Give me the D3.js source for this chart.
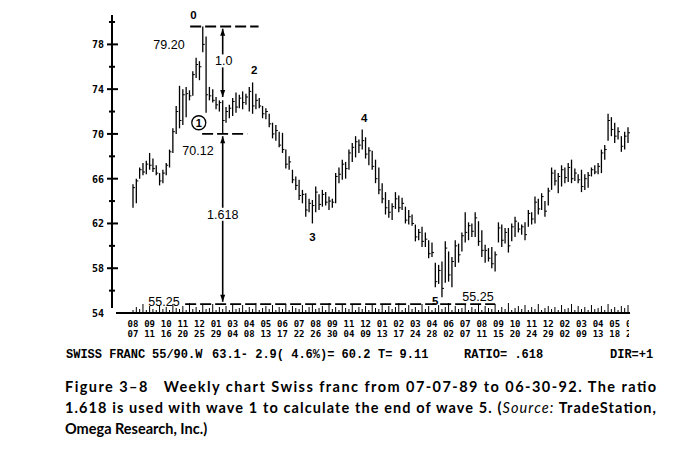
<!DOCTYPE html>
<html><head><meta charset="utf-8">
<script src="https://cdn.jsdelivr.net/npm/d3@7"></script>
<style>body{margin:0;background:#fff}svg{display:block}</style>
</head><body>
<svg id="c" width="691" height="450"></svg>
<script>
// ---- data ----
const highs = [65.5,66.0,67.0,67.4,67.6,68.3,67.8,67.2,66.5,66.8,67.4,68.6,70.5,72.5,74.3,74.0,74.2,73.9,75.6,76.8,76.5,79.6,78.7,74.2,74.0,73.3,73.0,73.0,72.4,72.6,
73.2,73.7,73.5,73.8,73.6,74.2,74.6,73.6,73.2,72.5,72.3,71.8,71.0,70.8,70.2,70.1,68.6,68.0,66.8,66.2,65.9,65.0,64.7,64.2,64.1,65.3,64.6,65.0,64.8,64.4,
64.2,66.5,67.0,67.7,67.5,68.6,69.2,69.8,69.5,70.4,69.7,68.8,68.5,67.7,67.0,65.6,64.8,64.1,63.8,64.8,64.5,64.3,63.5,63.2,62.8,61.9,61.5,61.7,61.2,60.5,
60.3,58.5,58.3,58.6,60.4,59.5,59.0,60.5,60.2,61.2,63.0,62.1,62.0,63.0,62.2,61.4,60.1,59.8,59.9,59.5,62.1,61.9,61.6,61.6,62.0,62.6,62.1,61.9,62.1,63.2,
63.0,64.4,64.2,64.7,64.0,65.2,67.0,66.8,66.5,67.2,67.0,67.4,67.7,66.9,66.4,66.8,66.4,66.6,67.0,67.2,67.4,68.6,69.0,71.8,71.5,71.0,70.6,69.8,70.2,70.6];
const lows = [63.4,63.8,66.0,66.3,66.4,66.8,66.6,66.3,65.4,65.6,66.3,67.0,68.3,70.0,70.5,70.8,71.5,73.0,73.4,75.0,74.8,77.3,71.9,73.0,72.8,72.2,72.0,70.0,71.0,71.4,
71.6,71.9,72.3,72.2,72.6,72.0,71.8,72.2,72.3,71.4,71.3,70.6,69.6,69.4,68.8,68.3,66.9,66.8,65.6,65.0,64.1,63.8,62.6,63.0,62.0,63.0,63.2,63.5,63.6,63.2,
63.4,63.8,65.6,65.9,66.0,66.8,67.5,67.9,68.3,68.6,67.8,67.2,66.8,65.6,64.6,63.8,62.8,62.5,62.3,63.3,63.0,63.2,62.0,61.9,61.8,60.4,60.5,59.9,59.9,58.9,
59.0,56.3,56.6,55.4,56.7,56.8,56.3,58.1,58.5,59.5,60.3,60.5,60.8,60.8,60.0,59.0,58.5,58.6,58.0,57.7,60.3,59.9,60.2,59.4,60.4,60.8,61.2,61.0,60.5,61.7,
61.9,62.0,62.8,63.2,62.6,63.6,65.0,65.4,64.7,65.3,65.6,65.7,65.6,65.8,65.6,64.8,65.0,65.2,66.2,66.4,66.4,66.5,67.7,69.4,69.8,69.2,69.5,68.4,68.6,69.2];
const closes = [65.2,65.8,66.8,66.6,67.3,67.2,66.9,66.5,65.8,66.5,67.2,68.4,70.2,72.0,71.2,73.5,73.6,73.4,75.3,76.2,76.0,78.0,73.5,73.4,73.0,72.6,72.8,71.2,72.0,72.3,
72.9,72.4,73.2,72.8,73.3,73.8,72.5,73.0,72.5,71.8,72.0,70.9,70.0,70.3,69.0,68.6,67.3,67.5,65.9,65.4,64.5,64.6,63.2,63.8,63.6,64.8,63.7,64.6,63.9,64.0,
63.9,66.2,66.4,67.3,66.9,68.3,68.8,69.3,69.0,69.4,68.2,68.5,67.1,66.0,65.0,64.2,63.4,63.0,63.5,64.2,63.4,63.8,62.3,62.6,62.0,60.8,61.2,60.4,60.6,59.3,
59.4,56.8,57.8,56.2,59.8,57.4,58.6,60.0,59.2,60.9,61.2,61.8,61.3,62.5,60.4,59.6,59.6,58.9,58.4,59.2,61.6,60.5,61.2,60.0,61.7,62.2,61.5,61.7,61.0,62.9,
62.4,63.9,63.3,64.4,63.1,64.9,66.5,65.8,66.2,66.8,66.1,67.0,66.0,66.5,65.9,65.3,66.0,66.3,66.8,66.6,67.1,68.3,68.6,71.2,70.4,69.8,70.2,68.9,69.8,70.1];
const volume = [2,5,3,8,2,6,3,2,7,3,5,2,8,4,3,6,2,9,3,5,2,7,3,4,8,2,5,3,6,2,8,3,4,7,2,5,3,9,2,4,6,3,7,2,5,3,8,2,6,4,3,7,2,5,8,3,4,6,2,9,
3,5,2,7,4,3,8,2,5,3,6,2,7,4,3,8,2,6,3,5,9,2,4,7,3,5,2,8,3,6,2,4,7,3,5,9,2,6,3,4,8,2,5,3,7,2,6,4,3,8,2,5,3,9,2,4,6,3,7,2,
5,3,8,2,4,6,3,5,2,7,3,4,8,2,6,3,5,2,7,3,4,6,2,8,3,5,2,6,4,7];
const yTicks = [54,58,62,66,70,74,78];
const yMinor = [56,60,64,68,72,76,80];
const months = ["08","09","10","11","12","01","03","04","05","06","07","08","09","11","12","01","02","03","04","06","07","08","09","10","11","12","02","03","04","05","06"];
const days   = ["07","11","16","20","25","29","04","08","13","17","22","26","30","04","09","13","17","24","28","02","07","11","15","20","24","29","02","09","13","18","22"];
const levels = [79.6, 70.0, 54.8];          // wave 0 high, wave 1 low, wave 5 target
const levelText = ["79.20", "70.12", "55.25"];
const ratioText = ["1.0", "1.618"];
const waveLabels = [{t:"0",w:18.2,v:80.6},{t:"2",w:36.5,v:75.7},{t:"3",w:54,v:60.8},{t:"4",w:69.6,v:71.4},{t:"5",w:91,v:55.1}];
const status = ["SWISS FRANC","55/90.W","63.1- 2.9( 4.6%)= 60.2","T= 9.11","RATIO= .618","DIR=+1"];
const caption = ["Figure 3\u20138   Weekly chart Swiss franc from 07-07-89 to 06-30-92. The ratio",
 "1.618 is used with wave 1 to calculate the end of wave 5. (",
 "Omega Research, Inc.)"];

// ---- scales ----
const svg = d3.select("#c");
const x = d3.scaleLinear().domain([0, 149]).range([133, 628]);
const y = d3.scaleLinear().domain([54, 80]).range([313, 22]);
const mono = "'Liberation Mono','DejaVu Sans Mono',monospace";

svg.append("defs").append("clipPath").attr("id","lblclip").append("rect")
  .attr("x",100).attr("y",300).attr("width",529).attr("height",50);

// y axis
const ax = 112;
svg.append("line").attr("x1",ax).attr("x2",ax).attr("y1",15).attr("y2",308).attr("stroke","#000").attr("stroke-width",2);
svg.selectAll(".ymaj").data(yTicks.filter(d=>d>54)).enter().append("line")
  .attr("x1",ax-5).attr("x2",ax+6).attr("y1",d=>y(d)).attr("y2",d=>y(d)).attr("stroke","#000").attr("stroke-width",2);
svg.selectAll(".ymin").data(yMinor).enter().append("line")
  .attr("x1",ax-3).attr("x2",ax+3).attr("y1",d=>y(d)).attr("y2",d=>y(d)).attr("stroke","#000").attr("stroke-width",2);
svg.selectAll(".ylab").data(yTicks).enter().append("text")
  .attr("x",104).attr("y",d=>y(d)+4).attr("text-anchor","end")
  .attr("font-family","'DejaVu Sans Mono',monospace").attr("font-weight","bold").attr("font-size",10)
  .text(d=>d);

// baseline
svg.append("line").attr("x1",116).attr("x2",630).attr("y1",313).attr("y2",313).attr("stroke","#000").attr("stroke-width",2);
// volume ticks
svg.selectAll(".vol").data(volume).enter().append("line")
  .attr("x1",(d,i)=>x(i)).attr("x2",(d,i)=>x(i)).attr("y1",312).attr("y2",d=>312-d)
  .attr("stroke","#000").attr("stroke-width",1);
// date labels
const lx = k => x(k*5);
const lg = svg.append("g").attr("clip-path","url(#lblclip)");
lg.selectAll(".mo").data(months).enter().append("text")
  .attr("x",(d,k)=>lx(k)).attr("y",327).attr("text-anchor","middle")
  .attr("font-family","'DejaVu Sans Mono',monospace").attr("font-weight","bold").attr("font-size",9).text(d=>d);
lg.selectAll(".dy").data(days).enter().append("text")
  .attr("x",(d,k)=>lx(k)).attr("y",337).attr("text-anchor","middle")
  .attr("font-family","'DejaVu Sans Mono',monospace").attr("font-weight","bold").attr("font-size",9).text(d=>d);

// price bars (high-low with close tick)
const bars = svg.append("g");
bars.selectAll(".bar").data(highs).enter().append("line")
  .attr("x1",(d,i)=>x(i)).attr("x2",(d,i)=>x(i))
  .attr("y1",d=>y(d)).attr("y2",(d,i)=>y(lows[i]))
  .attr("stroke","#000").attr("stroke-width",1.3);
bars.selectAll(".cl").data(closes).enter().append("line")
  .attr("x1",(d,i)=>x(i)).attr("x2",(d,i)=>x(i)+2)
  .attr("y1",d=>y(d)).attr("y2",d=>y(d))
  .attr("stroke","#000").attr("stroke-width",1);

// dashed levels
const dash = "11,4";
function hline(v, w0, w1){ svg.append("line").attr("x1",x(w0)).attr("x2",x(w1)).attr("y1",y(v)).attr("y2",y(v))
  .attr("stroke","#000").attr("stroke-width",1.8).attr("stroke-dasharray",dash); }
hline(levels[0], 17.2, 37.8);
hline(levels[1], 20.8, 34.4);
hline(levels[2], 15.7, 109);

const font = "'Liberation Sans',Arial,sans-serif";
function txt(s,xx,yy,size,anchor){ return svg.append("text").attr("x",xx).attr("y",yy).attr("font-family",font)
  .attr("font-size",size).attr("text-anchor",anchor||"middle").text(s); }
txt(levelText[0], 169, 49, 12.5);
txt(levelText[1], 198, 155, 12.5);
txt(levelText[2], 164, 306, 12.5);
txt(levelText[2], 478, 301, 12.5);
waveLabels.forEach(d=>txt(d.t, x(d.w), y(d.v)+4, 11.5).attr("font-weight","bold"));

// arrows
const axw = x(27);
function arrow(v0, v1){
  const y0 = y(v0), y1 = y(v1);
  svg.append("line").attr("x1",axw).attr("x2",axw).attr("y1",y0).attr("y2",y1).attr("stroke","#000").attr("stroke-width",1.6);
  svg.append("path").attr("d",`M${axw-2.5},${y0+7}L${axw},${y0}L${axw+2.5},${y0+7}Z`).attr("fill","#000");
  svg.append("path").attr("d",`M${axw-2.5},${y1-7}L${axw},${y1}L${axw+2.5},${y1-7}Z`).attr("fill","#000");
}
arrow(79.4, 73.3);
arrow(69.8, 55.0);
svg.append("rect").attr("x",axw-10).attr("y",y(76.3)-9).attr("width",20).attr("height",13).attr("fill","#fff");
txt(ratioText[0], axw+1, y(76.3)+2, 12.5);
svg.append("rect").attr("x",axw-16).attr("y",y(62.6)-9).attr("width",32).attr("height",13).attr("fill","#fff");
txt(ratioText[1], axw, y(62.6)+2, 12.5);
// circled 1
svg.append("circle").attr("cx",x(19.8)).attr("cy",y(71.0)).attr("r",7).attr("fill","none").attr("stroke","#000").attr("stroke-width",1.3);
txt("1", x(19.8), y(71.0)+4, 11).attr("font-weight","bold");

// status line
const sx = [66,152,212,378,464,610];
status.forEach((s,i)=>svg.append("text").attr("x",sx[i]).attr("y",358).attr("font-family",mono)
  .attr("font-weight","bold").attr("font-size",12).attr("xml:space","preserve").style("white-space","pre").text(s));

// caption
const cf = "'Lato','Open Sans',sans-serif";
svg.append("text").attr("x",65).attr("y",392).attr("font-family",cf).attr("font-weight","bold").attr("font-size",14.5)
  .attr("textLength",591).attr("lengthAdjust","spacing").style("white-space","pre").text(caption[0]);
const c2 = svg.append("text").attr("x",65).attr("y",413).attr("font-family",cf).attr("font-weight","bold").attr("font-size",14.5)
  .attr("textLength",591).attr("lengthAdjust","spacing");
c2.append("tspan").text(caption[1]);
c2.append("tspan").attr("font-style","italic").attr("font-weight","normal").text("Source:");
c2.append("tspan").text(" TradeStation,");
svg.append("text").attr("x",65).attr("y",434).attr("font-family",cf).attr("font-weight","bold").attr("font-size",14.5).text(caption[2]);
</script>
</body></html>
